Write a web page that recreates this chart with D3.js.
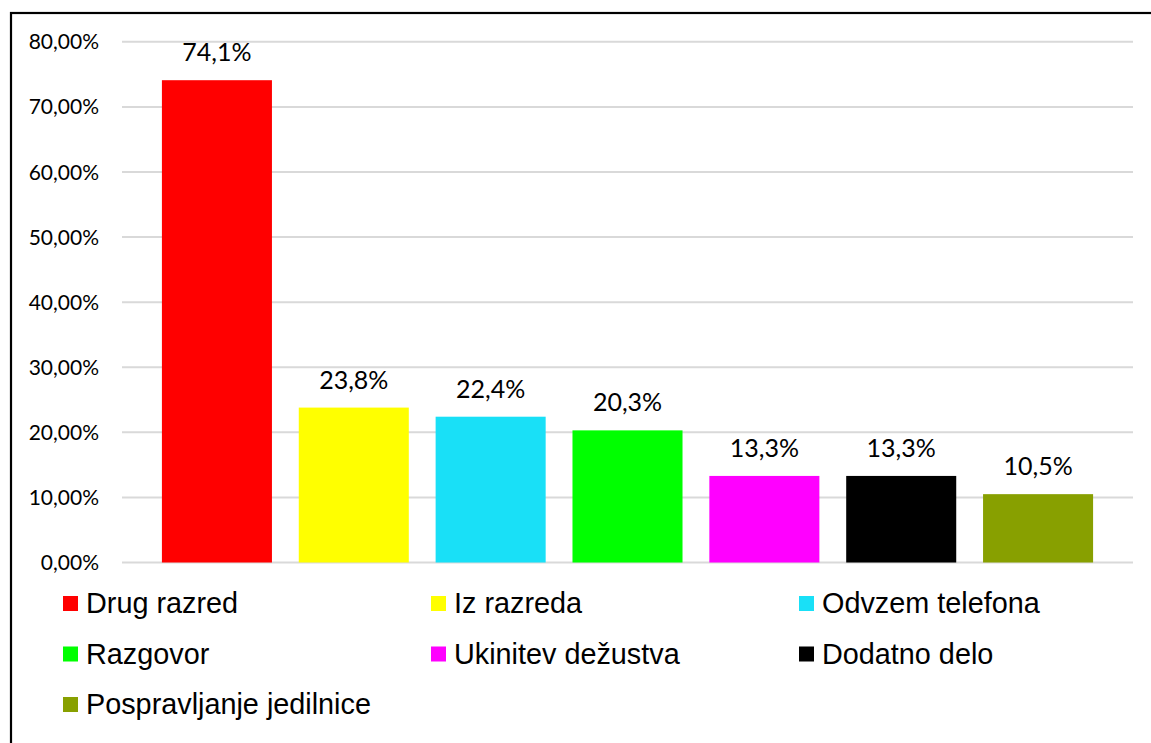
<!DOCTYPE html>
<html>
  <head>
    <meta charset="utf-8">
    <script src="https://d3js.org/d3.v7.min.js"></script>
    <style>
      body { margin: 0; background: #fff; }
      svg { display: block; }
    </style>
  </head>
  <body>
    <div id="chart"></div>
    <script>
      // data
      const categories = ["Drug razred", "Iz razreda", "Odvzem telefona", "Razgovor",
                          "Ukinitev dežustva", "Dodatno delo", "Pospravljanje jedilnice"];
      const values = [74.1, 23.8, 22.4, 20.3, 13.3, 13.3, 10.5];
      const colors = ["#ff0000", "#ffff00", "#19e0f7", "#00ff00", "#ff00ff", "#000000", "#88a000"];
      const yTicks = [0, 10, 20, 30, 40, 50, 60, 70, 80];

      const width = 1151, height = 743;

      const svg = d3.select("#chart").append("svg")
        .attr("width", width)
        .attr("height", height);

      // outer frame (only left and top edges are visible in the image)
      svg.append("rect")
        .attr("x", 11).attr("y", 13)
        .attr("width", 1200).attr("height", 800)
        .attr("fill", "none")
        .attr("stroke", "#000")
        .attr("stroke-width", 2.2);

      const x = d3.scaleBand()
        .domain(categories)
        .range([148.5, 1106.5])
        .paddingInner(0.196)
        .paddingOuter(0.098);

      const y = d3.scaleLinear()
        .domain([0, 80])
        .range([562.5, 41.8]);

      // gridlines
      svg.append("g")
        .selectAll("line")
        .data(yTicks)
        .join("line")
          .attr("x1", 122).attr("x2", 1133)
          .attr("y1", d => y(d)).attr("y2", d => y(d))
          .attr("stroke", "#d9d9d9")
          .attr("stroke-width", 2);

      // y axis labels
      svg.append("g")
        .selectAll("text")
        .data(yTicks)
        .join("text")
          .attr("x", 99)
          .attr("y", d => y(d))
          .attr("dy", "0.36em")
          .attr("text-anchor", "end")
          .style("font-family", "Lato, 'Open Sans', sans-serif")
          .style("font-size", "21px")
          .attr("fill", "#000")
          .text(d => d.toFixed(2).replace(".", ",") + "%");

      // bars
      svg.append("g")
        .selectAll("rect")
        .data(values)
        .join("rect")
          .attr("x", (d, i) => x(categories[i]))
          .attr("y", d => y(d))
          .attr("width", x.bandwidth())
          .attr("height", d => y(0) - y(d))
          .attr("fill", (d, i) => colors[i]);

      // value labels
      svg.append("g")
        .selectAll("text")
        .data(values)
        .join("text")
          .attr("x", (d, i) => x(categories[i]) + x.bandwidth() / 2)
          .attr("y", d => y(d) - 19)
          .attr("text-anchor", "middle")
          .style("font-family", "Lato, 'Open Sans', sans-serif")
          .style("font-size", "25px")
          .attr("fill", "#000")
          .text(d => d.toFixed(1).replace(".", ",") + "%");

      // legend, three columns
      const colX = [63, 431, 799];
      const rowY = [613, 663.5, 714];
      const legend = svg.append("g")
        .selectAll("g")
        .data(categories)
        .join("g")
          .attr("transform", (d, i) => `translate(${colX[i % 3]},${rowY[Math.floor(i / 3)]})`);

      legend.append("rect")
        .attr("x", 0).attr("y", -17)
        .attr("width", 15).attr("height", 15)
        .attr("fill", (d, i) => colors[i]);

      legend.append("text")
        .attr("x", 23)
        .attr("y", 0)
        .style("font-family", "'Liberation Sans', Arial, sans-serif")
        .style("font-size", "28.8px")
        .attr("fill", "#000")
        .text(d => d);
    </script>
  </body>
</html>
